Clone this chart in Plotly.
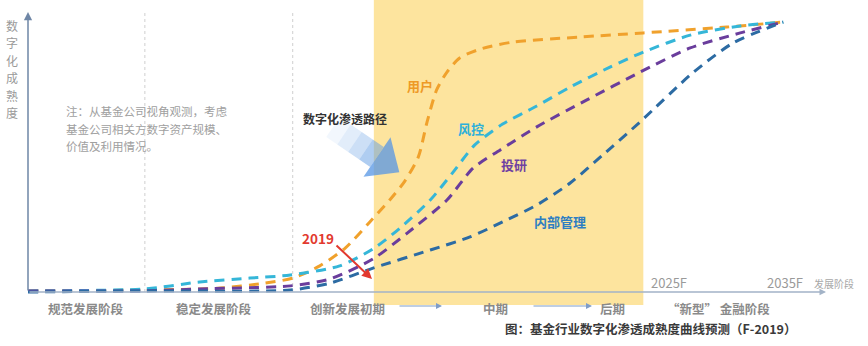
import plotly.graph_objects as go
import math

# ---------------- data (progress units: x 0-100 along the stage axis, y 0-100 maturity) -------------
user_x = [0, 14.7, 24.2, 29.8, 33.3, 36.7, 39.9, 43.0, 45.5, 47.4, 49.1, 50.2, 51.4, 52.7, 54.3, 56.9, 61.0, 69.4, 77.4, 87.9, 95.0]
user_y = [0.4, 0.7, 1.4, 3.2, 5.0, 9.4, 15.8, 25.2, 33.1, 39.9, 48.6, 61.2, 72.7, 79.1, 84.2, 87.4, 89.9, 91.7, 93.2, 95.3, 97.1]

risk_x = [0, 14.7, 21.6, 27.9, 33.0, 39.2, 43.4, 46.8, 50.6, 53.5, 56.2, 59.7, 64.0, 68.2, 73.2, 77.4, 83.3, 89.6, 95.0]
risk_y = [0.4, 1.1, 3.6, 5.0, 6.1, 9.4, 15.5, 23.0, 33.1, 43.2, 52.9, 60.4, 66.9, 73.7, 80.9, 86.3, 92.4, 95.7, 97.1]

invest_x = [0, 14.7, 21.6, 33.0, 38.0, 43.4, 47.7, 52.7, 56.0, 59.4, 64.0, 70.3, 77.0, 83.3, 89.6, 95.0]
invest_y = [0.4, 0.4, 1.1, 2.2, 4.7, 11.9, 21.2, 33.1, 44.6, 51.1, 59.4, 69.1, 79.1, 87.8, 93.2, 97.1]

mgmt_x = [0, 14.7, 33.0, 38.0, 43.4, 50.6, 55.6, 59.7, 64.0, 68.2, 72.3, 77.0, 83.6, 88.7, 95.0]
mgmt_y = [0.0, 0.4, 0.7, 3.2, 8.6, 15.1, 19.8, 25.2, 31.3, 39.2, 49.3, 61.2, 78.8, 89.6, 97.1]

series_names = ["用户", "风控", "投研", "内部管理"]
stage_labels = ["规范发展阶段", "稳定发展阶段", "创新发展初期", "中期", "后期", "“新型” 金融阶段"]
year_labels = ["2025F", "2035F"]
boundaries = [14.7, 33.3]          # dotted stage dividers
highlight = [43.5, 77.4]           # yellow forecast band

# ---------------- layout helpers (pixel -> axis units) ----------------
W, H = 868, 346
X0, Y0, SX, SY = 28, 292, 7.95, 2.78
def dx(px):
    return (px - X0) / SX
def dy(py):
    return (Y0 - py) / SY

FONT = "Noto Sans CJK SC"
colors = {"用户": "#F0A12C", "风控": "#35B6D8", "投研": "#6A3D9C", "内部管理": "#2C6BA3"}
label_colors = {"用户": "#EE9A26", "风控": "#2EB0DA", "投研": "#7042A2", "内部管理": "#2E7EC2"}

fig = go.Figure()
for name, xs, ys in [("用户", user_x, user_y), ("风控", risk_x, risk_y),
                     ("投研", invest_x, invest_y), ("内部管理", mgmt_x, mgmt_y)]:
    fig.add_trace(go.Scatter(
        x=xs, y=ys, mode="lines", name=name,
        line=dict(color=colors[name], width=3, dash="10px,7px", shape="spline", smoothing=0.7),
        hoverinfo="skip", showlegend=False, cliponaxis=False))

shapes = []
# yellow band
shapes.append(dict(type="rect", xref="x", yref="y", x0=highlight[0], x1=highlight[1],
                   y0=dy(305), y1=dy(0), fillcolor="#FDE49E", line=dict(width=0), layer="below"))
# dotted stage dividers
for b in boundaries:
    shapes.append(dict(type="line", xref="x", yref="y", x0=b, x1=b, y0=0, y1=dy(10),
                       line=dict(color="#cfcfcf", width=1, dash="dot"), layer="below"))

# pale blue "path" arrow, built from segments of increasing opacity
sx_, sy_ = 333, 127
ex_, ey_ = 377, 157
L = math.hypot(ex_ - sx_, ey_ - sy_)
ux, uy = (ex_ - sx_) / L, (ey_ - sy_) / L
px_, py_ = uy, -ux
hw = 12
def P(x, y):
    return f"{dx(x):.3f},{dy(y):.3f}"
steps = [0.08, 0.18, 0.32, 0.5]
n = len(steps)
for i, a in enumerate(steps):
    t0, t1 = i / n, (i + 1) / n
    cx0, cy0 = sx_ + (ex_ - sx_) * t0, sy_ + (ey_ - sy_) * t0
    cx1, cy1 = sx_ + (ex_ - sx_) * t1, sy_ + (ey_ - sy_) * t1
    path = ("M " + P(cx0 + hw * px_, cy0 + hw * py_) + " L " + P(cx1 + hw * px_, cy1 + hw * py_) +
            " L " + P(cx1 - hw * px_, cy1 - hw * py_) + " L " + P(cx0 - hw * px_, cy0 - hw * py_) + " Z")
    shapes.append(dict(type="path", xref="x", yref="y", path=path,
                       fillcolor=f"rgba(95,155,228,{a})", line=dict(width=0), layer="above"))
hh = 24
tip = (ex_ + 27 * ux, ey_ + 27 * uy)
head = ("M " + P(ex_ + hh * px_, ey_ + hh * py_) + " L " + P(*tip) +
        " L " + P(ex_ - hh * px_, ey_ - hh * py_) + " Z")
shapes.append(dict(type="path", xref="x", yref="y", path=head,
                   fillcolor="rgba(85,150,228,0.75)", line=dict(width=0), layer="above"))

ann = []
# axes with arrows
ann.append(dict(x=0, y=dy(12), ax=0, ay=0, xref="x", yref="y", axref="x", ayref="y", text="",
                showarrow=True, arrowhead=2, arrowsize=1.1, arrowwidth=1.5, arrowcolor="#6f86a6"))
ann.append(dict(x=dx(826), y=0, ax=0, ay=0, xref="x", yref="y", axref="x", ayref="y", text="",
                showarrow=True, arrowhead=2, arrowsize=1.0, arrowwidth=1.3, arrowcolor="#a3b3c7"))
# stage arrows
for (a, b) in [(398, 442), (532, 592)]:
    ann.append(dict(x=dx(b), y=dy(306), ax=dx(a), ay=dy(306), xref="x", yref="y", axref="x", ayref="y",
                    text="", showarrow=True, arrowhead=2, arrowsize=1.0, arrowwidth=1.2, arrowcolor="#7f9dc8"))
# red 2019 arrow
ann.append(dict(x=dx(372), y=dy(279), ax=dx(335), ay=dy(244), xref="x", yref="y", axref="x", ayref="y",
                text="", showarrow=True, arrowhead=2, arrowsize=1.0, arrowwidth=2, arrowcolor="#E2392F"))

def txt(s, px, py, size, color, anchor="center", bold=False):
    ann.append(dict(x=dx(px), y=dy(py), xref="x", yref="y", text=(f"<b>{s}</b>" if bold else s),
                    showarrow=False, xanchor=anchor, yanchor="middle",
                    font=dict(family=FONT, size=size, color=color)))

# y axis title, stacked
for i, ch in enumerate("数字化成熟度"):
    txt(ch, 12, 25 + i * 17.5, 12, "#9a9a9a")
# note
note = ["注：从基金公司视角观测，考虑", "基金公司相关方数字资产规模、", "价值及利用情况。"]
for i, line in enumerate(note):
    txt(line, 64, 111 + i * 17.5, 11.5, "#a0a0a0", anchor="left")
# stage labels
stage_pos = [86, 214, 347, 495, 612, 718]
for s, p in zip(stage_labels, stage_pos):
    txt(s, p, 308, 12.5, "#8a8a8a", bold=True)
# year labels
txt(year_labels[0], 669, 282, 13, "#9a9a9a")
txt(year_labels[1], 785, 282, 13, "#9a9a9a")
txt("发展阶段", 834, 283, 10, "#a8a8a8")
# caption
txt("图：基金行业数字化渗透成熟度曲线预测（F-2019）", 503, 328, 12.5, "#3a3a3a", anchor="left", bold=True)
# path label
txt("数字化渗透路径", 345, 118, 12, "#333333", bold=True)
txt("2019", 318, 238, 13.5, "#E2392F", bold=True)
# series labels
for name, (px, py) in zip(series_names, [(420, 85), (471, 128), (514, 164), (560, 221)]):
    txt(name, px, py, 13, label_colors[name], bold=True)

fig.update_layout(
    width=W, height=H, margin=dict(l=0, r=0, t=0, b=0),
    paper_bgcolor="white", plot_bgcolor="white",
    xaxis=dict(range=[dx(0), dx(W)], visible=False, fixedrange=True),
    yaxis=dict(range=[dy(H), dy(0)], visible=False, fixedrange=True),
    shapes=shapes, annotations=ann, showlegend=False)

fig.write_html("out.html")
